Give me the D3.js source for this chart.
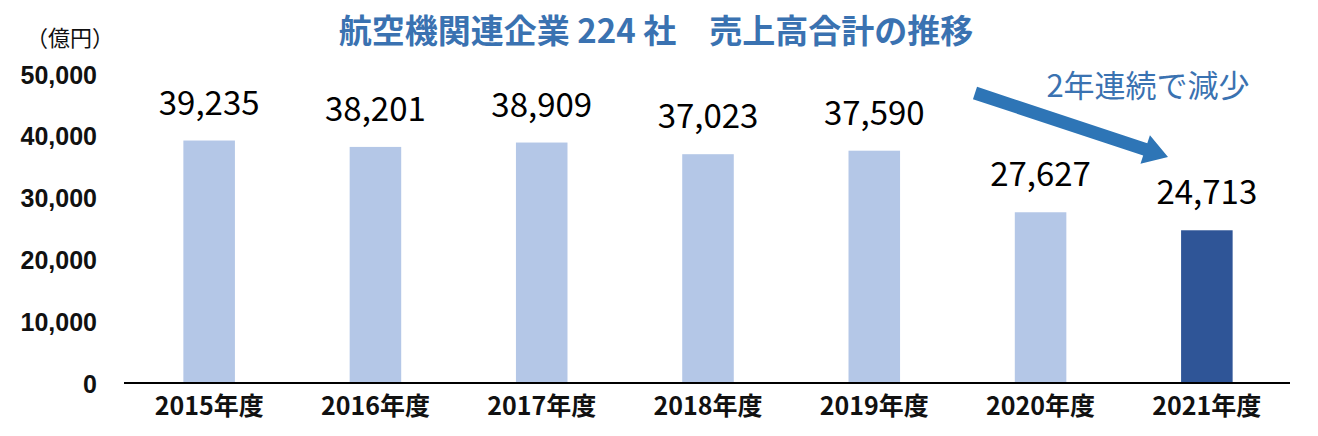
<!DOCTYPE html>
<html><head><meta charset="utf-8">
<script src="https://cdn.jsdelivr.net/npm/d3@7"></script>
<style>body{margin:0;background:#fff}svg{display:block}</style>
</head><body>
<svg id="c" width="1318" height="436"></svg>
<script>
const categories = ["2015年度","2016年度","2017年度","2018年度","2019年度","2020年度","2021年度"];
const values = [39235, 38201, 38909, 37023, 37590, 27627, 24713];
const yTicks = [0, 10000, 20000, 30000, 40000, 50000];
const title = "航空機関連企業 224 社　売上高合計の推移";
const unitLabel = "（億円）";
const note = "2年連続で減少";

const svg = d3.select("#c");
const font = "'Noto Sans CJK JP', 'Noto Sans', sans-serif";
const x = d3.scaleBand().domain(categories).range([126, 1290]).paddingInner(0.69).paddingOuter(0.345);
const y = d3.scaleLinear().domain([0, 50000]).range([383, 74]);
const fmt = d3.format(",");

// bars
svg.selectAll("rect.bar").data(values).join("rect")
  .attr("class","bar")
  .attr("x",(d,i)=>x(categories[i]))
  .attr("width",x.bandwidth())
  .attr("y",d=>y(d))
  .attr("height",d=>y(0)-y(d)+ 1)
  .attr("fill",(d,i)=> i===values.length-1 ? "#2F5597" : "#B4C7E7");

// y axis labels
const ya = svg.append("g").attr("transform","translate(97,0)")
  .call(d3.axisLeft(y).tickValues(yTicks).tickFormat(fmt).tickSize(0).tickPadding(0));
ya.select(".domain").remove();
ya.selectAll("text").attr("font-family","'Liberation Sans', Arial, sans-serif").attr("font-size",25).attr("font-weight","bold").attr("fill","#111").attr("dy","0.36em");

// x axis
const xa = svg.append("g").attr("transform","translate(0,383)")
  .call(d3.axisBottom(x).tickSize(0).tickPadding(14));
xa.select(".domain").attr("stroke","#000").attr("stroke-width",2).attr("d","M124,0H1290");
xa.selectAll("text").attr("font-family",font).attr("font-size",25).attr("font-weight","bold").attr("fill","#111").attr("dy","0.71em");

// value labels
svg.selectAll("text.val").data(values).join("text")
  .attr("class","val")
  .attr("x",(d,i)=>x(categories[i])+x.bandwidth()/2)
  .attr("y",d=>y(d)-26)
  .attr("text-anchor","middle")
  .attr("font-family",font).attr("font-size",33).attr("fill","#000")
  .text(d=>fmt(d));

// title
svg.append("text").attr("x",656).attr("y",43).attr("text-anchor","middle")
  .attr("font-family",font).attr("font-size",33).attr("font-weight","bold").attr("fill","#3A72B1")
  .text(title);

// unit
svg.append("text").attr("x",26).attr("y",46)
  .attr("font-family",font).attr("font-size",22).attr("fill","#111").text(unitLabel);

// annotation
svg.append("text").attr("x",1148).attr("y",97).attr("text-anchor","middle")
  .attr("font-family",font).attr("font-size",31).attr("fill","#3A72B1").text(note);

// arrow
const x0=975,y0=93,x1=1168,y1=157;
const dx=x1-x0, dy=y1-y0, L=Math.hypot(dx,dy), ux=dx/L, uy=dy/L, nx=-uy, ny=ux;
const sw=6.5, hl=24, hw=15;
const bx=x1-ux*hl, by=y1-uy*hl;
const pts=[[x0+nx*sw,y0+ny*sw],[bx+nx*sw,by+ny*sw],[bx+nx*hw,by+ny*hw],[x1,y1],[bx-nx*hw,by-ny*hw],[bx-nx*sw,by-ny*sw],[x0-nx*sw,y0-ny*sw]];
svg.append("path").attr("d",d3.line()(pts)+"Z").attr("fill","#2E75B6");
</script>
</body></html>
